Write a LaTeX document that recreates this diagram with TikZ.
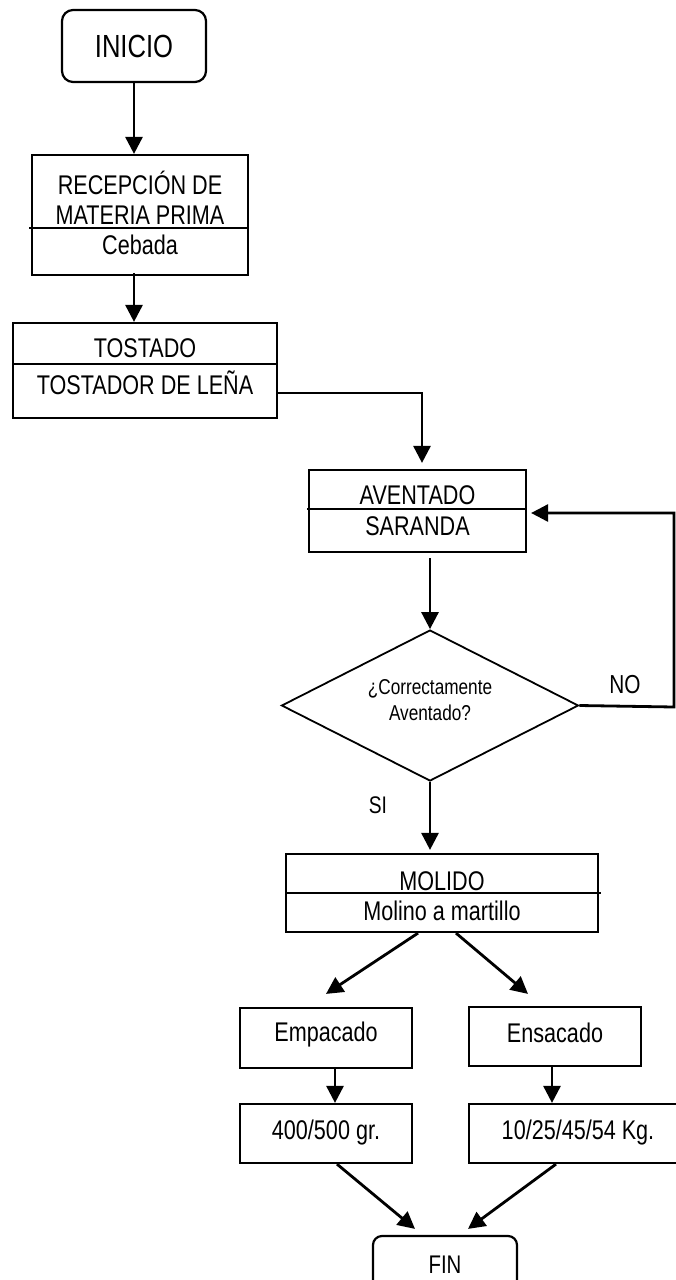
\documentclass[tikz,border=0pt]{standalone}
\usepackage{fontspec}
\setmainfont{Liberation Sans}[FakeStretch=0.8]
\usetikzlibrary{arrows.meta,shapes.geometric}
\begin{document}
\begin{tikzpicture}[x=1pt,y=-1pt,
  box/.style={draw,line width=2.2pt,inner sep=0pt,minimum width=#1},
  rbox/.style={draw,line width=2.2pt,inner sep=0pt,rounded corners=11pt},
  txt/.style={inner sep=0pt,font=\fontsize{27}{30}\selectfont},
  dtxt/.style={inner sep=0pt,font=\fontsize{21.5}{26}\selectfont,align=center},
  divline/.style={line width=1.8pt},
  arr/.style={line width=2.8pt,-{Triangle[length=17pt,width=17pt]}}]
\useasboundingbox (0,0) rectangle (676,1280);
\clip (0,0) rectangle (676,1280);
% nodes
\node[rbox,minimum width=144pt,minimum height=72pt] (inicio) at (134,46) {};
\node[txt,font=\fontsize{32}{36}\selectfont] (tinicio) at (134,46) {INICIO};

\node[box=216pt,minimum height=120pt] (recep) at (140,215) {};
\node[txt,align=center] (trecep) at (140,197.5) {RECEPCIÓN DE\\MATERIA PRIMA};
\node[txt] (tceb) at (140,245) {Cebada};
\draw[divline] (29,228) -- (247,228);

\node[box=264pt,minimum height=95pt] (tost) at (145,370.5) {};
\node[txt] (ttost) at (145,348) {TOSTADO};
\node[txt] (tlena) at (145,383) {TOSTADOR DE LEÑA};
\draw[divline] (13,364) -- (277,364);

\node[box=217pt,minimum height=82pt] (avent) at (417.5,511) {};
\node[txt] (tavent) at (417.5,495) {AVENTADO};
\node[txt] (tsar) at (417.5,526) {SARANDA};
\draw[divline] (307,509) -- (525,509);

\node[diamond,draw,line width=1.8pt,inner sep=0pt,aspect=1.97,minimum width=297pt,minimum height=151pt] (dec) at (430,705.5) {};
\node[dtxt] (tdec) at (430,700) {¿Correctamente\\Aventado?};

\node[box=312pt,minimum height=78pt] (mol) at (442,893) {};
\node[txt] (tmol) at (442,881) {MOLIDO};
\node[txt] (tmart) at (442,911) {Molino a martillo};
\draw[divline] (287,893) -- (601,893);

\node[box=172pt,minimum height=60pt] (emp) at (326,1038) {};
\node[txt] (temp) at (326,1035) {Empacado};
\node[box=172pt,minimum height=59pt] (ens) at (555,1036.5) {};
\node[txt] (tens) at (555,1033) {Ensacado};

\node[box=172pt,minimum height=59pt] (p1) at (326,1133.5) {};
\node[txt] (tp1) at (326,1133) {400/500 gr.};
\node[box=221pt,minimum height=59pt] (p2) at (579.5,1133.5) {};
\node[txt] (tp2) at (578,1133) {10/25/45/54 Kg.};

\node[rbox,rounded corners=9pt,minimum width=144pt,minimum height=58pt] (fin) at (445,1265) {};
\node[txt,font=\fontsize{25.5}{29}\selectfont] (tfin) at (445,1265) {FIN};

\node[txt,font=\fontsize{26}{30}\selectfont] (lno) at (625,685) {NO};
\node[txt,font=\fontsize{24}{28}\selectfont] (lsi) at (378,805) {SI};

\coordinate (loopc) at (674,707);
% connectors
\draw[arr] (inicio.south) -- (inicio.south |- recep.north);
\draw[arr] ([yshift=3]inicio.south |- recep.south) -- (inicio.south |- tost.north);
\draw[arr,shorten >=6pt] ([yshift=-22.5]tost.east) -| ([xshift=4.5]avent.north);
\draw[arr,shorten <=5pt] (dec.north |- avent.south) -- (dec.north);
\draw[arr,shorten >=4pt] (dec.east) -- (loopc) |- ([yshift=-2]avent.east);
\draw[arr,shorten >=3pt] (dec.south) -- (dec.south |- mol.north);
\draw[arr] ([xshift=-24]mol.south) -- ([yshift=13]emp.north);
\draw[arr] ([xshift=14]mol.south) -- ([xshift=-27,yshift=12]ens.north);
\draw[arr] ([xshift=9]emp.south) -- ([xshift=9]emp.south |- p1.north);
\draw[arr] ([xshift=-3]ens.south) -- ([xshift=-3]ens.south |- p2.north);
\draw[arr] ([xshift=11]p1.south) -- ([xshift=-30,yshift=6]fin.north);
\draw[arr] ([xshift=-23.5]p2.south) -- ([xshift=23,yshift=6]fin.north);
\end{tikzpicture}
\end{document}
